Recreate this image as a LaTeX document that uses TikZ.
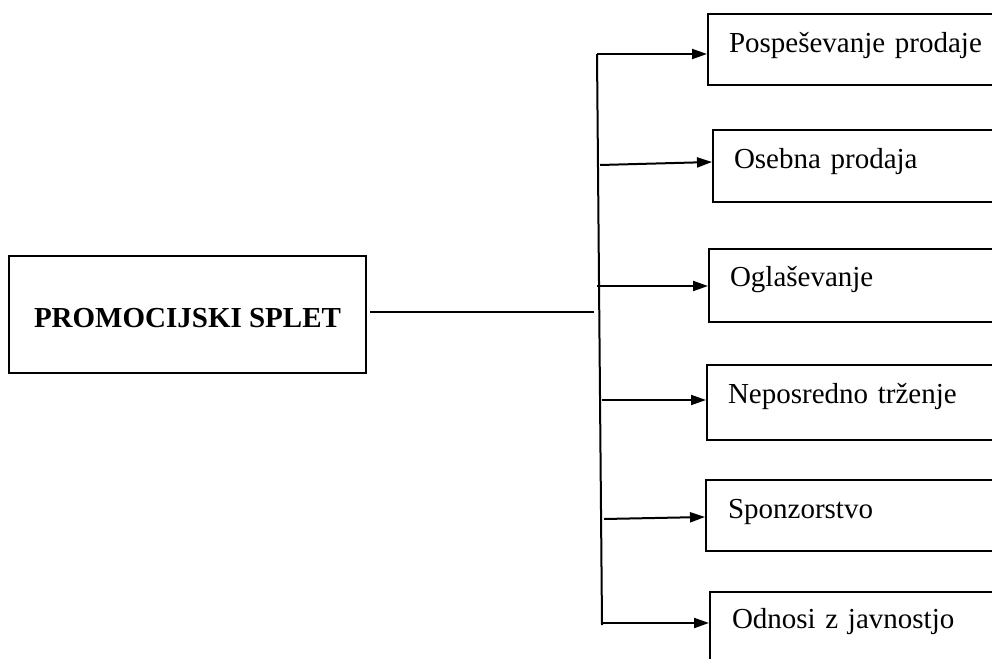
\documentclass[tikz,border=0pt]{standalone}
\usepackage{fontspec}
\setmainfont{Liberation Serif}
\usetikzlibrary{arrows.meta,calc}
\begin{document}
\begin{tikzpicture}[x=1pt,y=-1pt,line width=2pt,
  arr/.style={-{Triangle[length=15pt,width=10pt]}},
  itembox/.style={draw,anchor=north west,inner ysep=0pt,inner xsep=21pt,
    text width=260pt,align=left,text height=38pt,
    font=\fontsize{29}{34}\selectfont},
  mainbox/.style={draw,inner sep=0pt,minimum width=357pt,minimum height=117pt,
    text height=25pt,text depth=0pt,font=\fontsize{29}{34}\selectfont\bfseries}]
\useasboundingbox (0,0) rectangle (992,658);
\clip (0,0) rectangle (992,658);

% central box
\node[mainbox] (main) at (187.5,314.5) {PROMOCIJSKI SPLET};

% the six promotion tools
\node[itembox,text depth=32pt,text height=39pt] (b1) at (707,13)  {Pospeševanje prodaje};
\node[itembox,text depth=34pt] (b2) at (712,129) {Osebna prodaja};
\node[itembox,text depth=36pt,text height=37pt] (b3) at (708,248) {Oglaševanje};
\node[itembox,text depth=37pt] (b4) at (706,364) {Neposredno trženje};
\node[itembox,text depth=33pt,inner xsep=22pt,text width=259pt] (b5) at (705,479) {Sponzorstvo};
\node[itembox,text depth=44pt,text height=36pt,inner xsep=22pt,text width=259pt] (b6) at (709,591) {Odnosi z javnostjo};

% distribution bar
\coordinate (vt) at (597,54);
\coordinate (vb) at (602,625);
\coordinate (hin) at (594,312);
\draw (vt) -- (vb);
\draw ($(main.east)+(3,-2.5)$) -- (hin);

% branch arrows
\coordinate (s2) at (600,165);
\coordinate (s3) at (597,286);
\coordinate (s4) at (602,400);
\coordinate (s5) at (604,519);
\coordinate (s6) at (602,623);
\draw[arr] (vt) -- ($(b1.north west)+(0,41)$);
\draw[arr] (s2) -- ($(b2.north west)+(0,33)$);
\draw[arr] (s3) -- ($(b3.north west)+(0,38)$);
\draw[arr] (s4) -- ($(b4.north west)+(0,36)$);
\draw[arr] (s5) -- ($(b5.north west)+(0,38)$);
\draw[arr] (s6) -- ($(b6.north west)+(0,32)$);
\end{tikzpicture}
\end{document}
